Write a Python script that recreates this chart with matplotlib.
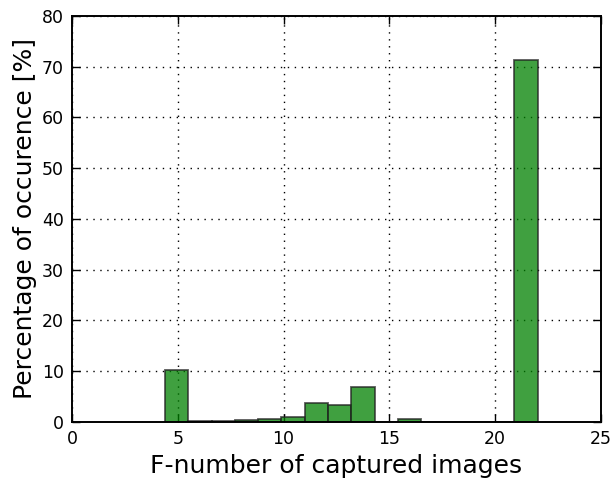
import numpy as np
import matplotlib
matplotlib.use("Agg")
import matplotlib.pyplot as plt

# Histogram of F-numbers: bin edges and percentage per bin
bin_edges = [4.4, 5.5, 6.6, 7.7, 8.8, 9.9, 11.0, 12.1, 13.2, 14.3, 15.4,
             16.5, 17.6, 18.7, 19.8, 20.9, 22.0]
percentages = [10.3, 0.1, 0.2, 0.45, 0.6, 1.05, 3.8, 3.35, 6.8, 0.0, 0.65,
               0.0, 0.0, 0.0, 0.0, 71.3]

x_ticks = [0, 5, 10, 15, 20, 25]
y_ticks = [0, 10, 20, 30, 40, 50, 60, 70, 80]

fig = plt.figure(figsize=(6.14, 4.79), dpi=100)
ax = fig.add_axes([0.1173, 0.119, 0.8615, 0.8476])

edges = np.array(bin_edges)
widths = np.diff(edges)
ax.bar(edges[:-1], percentages, width=widths, align="edge",
       facecolor="green", edgecolor="#222222", linewidth=1.3, alpha=0.75,
       zorder=2)

ax.set_xlim(0, 25)
ax.set_ylim(0, 80)
ax.set_xticks(x_ticks)
ax.set_yticks(y_ticks)
ax.tick_params(direction="in", length=6, width=1, labelsize=12.5,
               top=True, right=True, pad=6)
ax.grid(True, color="black", linestyle=(0, (1, 4)), linewidth=1.0, zorder=1)
ax.set_axisbelow(True)
for s in ax.spines.values():
    s.set_linewidth(1.4)

ax.set_xlabel("F-number of captured images", fontsize=18)
ax.set_ylabel("Percentage of occurence [%]", fontsize=18, labelpad=3)

fig.savefig("out.png", dpi=100)
